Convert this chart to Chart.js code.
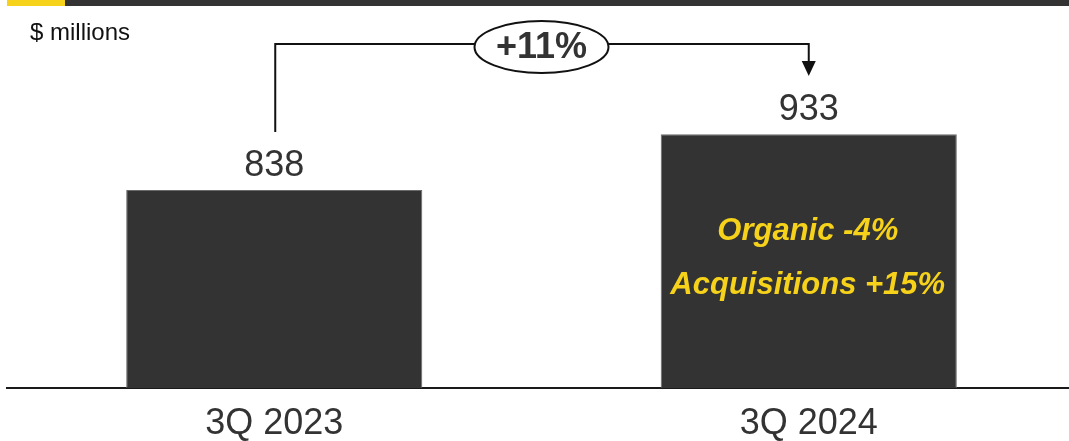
<!DOCTYPE html>
<html>
<head>
<meta charset="utf-8">
<script src="https://cdn.jsdelivr.net/npm/chart.js@4"></script>
<style>
  html, body { margin: 0; padding: 0; background: #fff; overflow: hidden; }
  #wrap { position: relative; width: 1080px; height: 441px; }
</style>
</head>
<body>
<div id="wrap"><canvas id="salesChart"></canvas></div>
<script>
var categories = ['3Q 2023', '3Q 2024'];
var revenue = [838, 933];
var growthLabel = '+11%';
var barNotes = ['Organic -4%', 'Acquisitions +15%'];
var unitLabel = '$ millions';

var DARK = '#333333';
var YELLOW = '#f6d21a';
var FONT = '"Liberation Sans", Arial, sans-serif';

var overlay = {
    id: 'overlay',
    afterDraw: function(chart) {
        var ctx = chart.ctx;
        var meta = chart.getDatasetMeta(0);
        var b1 = meta.data[0], b2 = meta.data[1];
        var bottom = chart.chartArea.bottom;
        ctx.save();

        // header band
        ctx.fillStyle = YELLOW;
        ctx.fillRect(7, 0, 58, 6);
        ctx.fillStyle = DARK;
        ctx.fillRect(65, 0, 1015, 6);

        // unit label
        ctx.fillStyle = '#111';
        ctx.font = '24px ' + FONT;
        ctx.textAlign = 'left';
        ctx.textBaseline = 'alphabetic';
        ctx.fillText(unitLabel, 30, 40);

        // value labels
        ctx.fillStyle = DARK;
        ctx.font = '36px ' + FONT;
        ctx.textAlign = 'center';
        meta.data.forEach(function(bar, i) {
            ctx.fillText(String(revenue[i]), bar.x, bar.y - 14);
        });

        // notes inside the second bar
        var mid = (b2.y + bottom) / 2;
        ctx.fillStyle = YELLOW;
        ctx.font = 'italic bold 31px ' + FONT;
        ctx.fillText(barNotes[0], b2.x - 1, mid - 21);
        ctx.fillText(barNotes[1], b2.x - 1, mid + 33);

        // growth bracket
        var lineY = 44;
        var ex = (b1.x + b2.x) / 2, ey = 47;
        ctx.strokeStyle = '#111';
        ctx.lineWidth = 2;
        ctx.beginPath();
        ctx.moveTo(b1.x + 1, b1.y - 58);
        ctx.lineTo(b1.x + 1, lineY);
        ctx.lineTo(b2.x, lineY);
        ctx.lineTo(b2.x, 62);
        ctx.stroke();
        ctx.fillStyle = '#111';
        ctx.beginPath();
        ctx.moveTo(b2.x - 7, 61);
        ctx.lineTo(b2.x + 7, 61);
        ctx.lineTo(b2.x, 76);
        ctx.closePath();
        ctx.fill();

        ctx.beginPath();
        ctx.ellipse(ex, ey, 67, 26, 0, 0, Math.PI * 2);
        ctx.fillStyle = '#fff';
        ctx.fill();
        ctx.lineWidth = 2;
        ctx.stroke();
        ctx.fillStyle = DARK;
        ctx.font = 'bold 36px ' + FONT;
        ctx.textBaseline = 'middle';
        ctx.fillText(growthLabel, ex, ey + 1);

        ctx.restore();
    }
};

document.addEventListener('DOMContentLoaded', function() {
    var canvas = document.getElementById('salesChart');

    new Chart(canvas, {
        type: 'bar',
        data: {
            labels: categories,
            datasets: [{
                data: revenue,
                backgroundColor: DARK,
                borderColor: '#6a6a6a',
                borderWidth: 1,
                barPercentage: 0.554,
                categoryPercentage: 1
            }]
        },
        options: {
            responsive: true,
            maintainAspectRatio: false,
            animation: false,
            layout: { padding: { top: 36.5, left: 7, right: 4, bottom: 0 } },
            plugins: {
                legend: { display: false },
                tooltip: { enabled: false }
            },
            scales: {
                x: {
                    offset: true,
                    grid: { display: false, drawTicks: false },
                    border: { display: true, color: '#1a1a1a', width: 2 },
                    ticks: {
                        color: DARK,
                        padding: 14,
                        font: { family: FONT, size: 36 }
                    },
                    afterFit: function(scale) { scale.height = 53; }
                },
                y: {
                    display: false,
                    min: 500,
                    max: 1100
                }
            }
        },
        plugins: [overlay]
    });
});
</script>
</body>
</html>
